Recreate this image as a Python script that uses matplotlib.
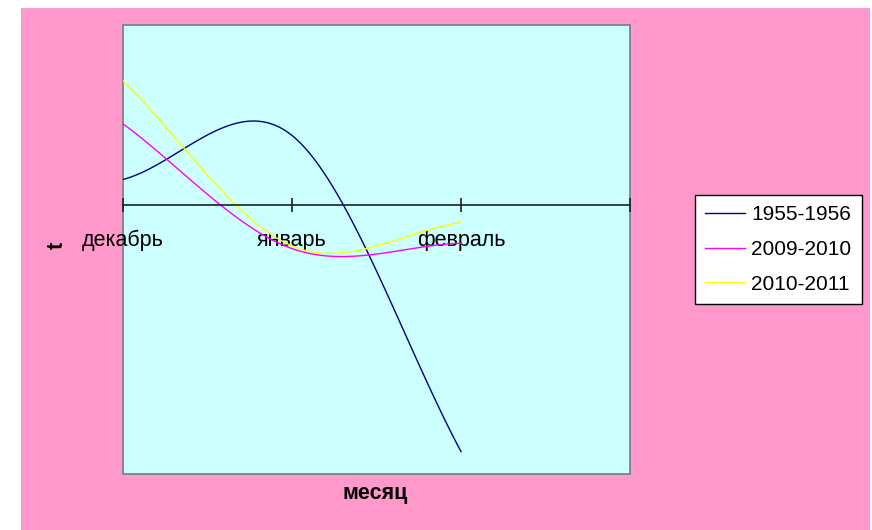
"""
Зимние температуры: сравнение трёх сезонов (дек-фев).
"""

import matplotlib
matplotlib.use("Agg")
import matplotlib.pyplot as plt
from matplotlib.patches import Rectangle
import numpy as np

plt.rcParams["font.family"] = ["Liberation Sans", "DejaVu Sans"]

# ---- data ----
months = ["декабрь", "январь", "февраль"]
seasons = ["1955-1956", "2009-2010", "2010-2011"]
t_1955 = [1.4, 3.85, -13.75]
t_2009 = [4.5, -2.45, -2.15]
t_2010 = [6.9, -2.3, -1.0]
line_colors = ["#000080", "#FF00FF", "#FFFF00"]


def smooth(values, n=60):
    """Excel-like smoothed line (cubic Hermite, Catmull-Rom tangents)."""
    p = np.asarray(values, dtype=float)
    k = len(p)
    m = np.empty(k)
    m[0] = p[1] - p[0]
    m[-1] = p[-1] - p[-2]
    m[1:-1] = (p[2:] - p[:-2]) / 2
    xs, ys = [], []
    for i in range(k - 1):
        t = np.linspace(0, 1, n)
        h00 = 2 * t**3 - 3 * t**2 + 1
        h10 = t**3 - 2 * t**2 + t
        h01 = -2 * t**3 + 3 * t**2
        h11 = t**3 - t**2
        xs.append(i + t)
        ys.append(h00 * p[i] + h10 * m[i] + h01 * p[i + 1] + h11 * m[i + 1])
    return np.concatenate(xs), np.concatenate(ys)


fig = plt.figure(figsize=(8.72, 5.30), dpi=100)
fig.patch.set_facecolor("white")

# pink chart area (leaves a thin white margin like the original)
bg = Rectangle((21 / 872, 0), 849 / 872, 1 - 8 / 530,
               transform=fig.transFigure, facecolor="#FF99CC",
               edgecolor="none", zorder=-10)
fig.add_artist(bg)

ax = fig.add_axes([123 / 872, 1 - 474 / 530, 507 / 872, 449 / 530])
ax.set_zorder(1)
ax.set_facecolor("#CCFFFF")

for vals, name, col in zip([t_1955, t_2009, t_2010], seasons, line_colors):
    x, y = smooth(vals)
    ax.plot(x, y, color=col, lw=1.0, label=name)

ax.set_xlim(0, 3)
ax.set_ylim(-15, 10)

# x axis goes through zero
for side in ["top", "right", "left"]:
    ax.spines[side].set_visible(False)
ax.spines["bottom"].set_position(("data", 0))
ax.spines["bottom"].set_color("#202020")
ax.spines["bottom"].set_linewidth(1.2)
ax.set_xticks([0, 1, 2, 3])
ax.set_xticklabels(months + [""], fontsize=15.5)
ax.tick_params(axis="x", direction="inout", length=10, width=1.2,
               color="#202020", pad=13)
ax.set_yticks([])

# gray frame around plot area
ax.add_patch(Rectangle((0, 0), 1, 1, transform=ax.transAxes, fill=False,
                       edgecolor="#808080", lw=1.3, clip_on=False))

fig.text(375 / 872, 1 - 493 / 530, "месяц", fontsize=15.5, fontweight="bold",
         ha="center", va="center", zorder=2)
fig.text(57 / 872, 1 - 245 / 530, "t", fontsize=15.5, fontweight="bold",
         rotation=90, ha="center", va="center", zorder=2)

leg = fig.legend(loc="upper left", bbox_to_anchor=(695 / 872, 1 - 195 / 530),
                 fontsize=15, frameon=True, fancybox=False, handlelength=1.9,
                 labelspacing=0.75, borderpad=0.5, handletextpad=0.3,
                 borderaxespad=0)
leg.get_frame().set_edgecolor("black")
leg.get_frame().set_linewidth(1.0)
leg.get_frame().set_alpha(1)
leg.set_zorder(3)

fig.savefig("out.png", dpi=100, facecolor=fig.get_facecolor())
